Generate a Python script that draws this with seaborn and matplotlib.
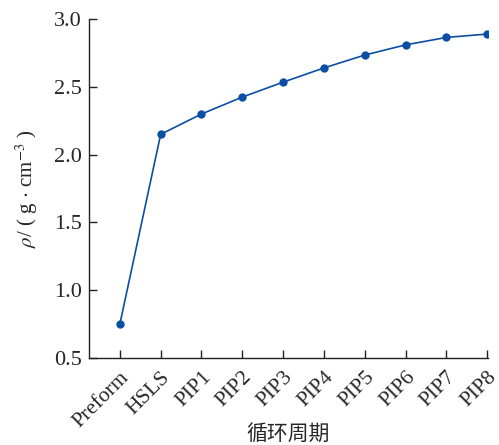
import matplotlib
matplotlib.use("Agg")
import matplotlib.pyplot as plt
import seaborn as sns
import pandas as pd

# Données : densité après chaque cycle
cycles = ["Preform", "HSLS", "PIP1", "PIP2", "PIP3", "PIP4", "PIP5", "PIP6", "PIP7", "PIP8"]
density = [0.75, 2.15, 2.30, 2.425, 2.535, 2.64, 2.735, 2.81, 2.865, 2.89]
yticks = [0.5, 1.0, 1.5, 2.0, 2.5, 3.0]

sns.set_style("ticks")
plt.rcParams["font.family"] = ["Liberation Serif", "Noto Sans CJK SC"]
plt.rcParams["mathtext.fontset"] = "stix"

df = pd.DataFrame({"cycle": cycles, "rho": density})
df["pos"] = range(len(cycles))

fig = plt.figure(figsize=(4.99, 4.45), dpi=100)
ax = fig.add_axes([0.178, 0.1955, 0.8, 0.7615])
sns.lineplot(data=df, x="pos", y="rho", marker="o", color="#0b4ea6",
             linewidth=1.2, markersize=6, markeredgewidth=0, ax=ax)

ax.set_xlim(-0.76, 9.02)
ax.set_ylim(0.5, 3.0)
ax.set_xticks(df["pos"])
ax.set_xticklabels(cycles, rotation=45, ha="right", rotation_mode="anchor", fontsize=15.5)
ax.set_yticks(yticks)
ax.set_yticklabels([f"{v:.1f}" for v in yticks], fontsize=16)
ax.tick_params(direction="in", length=6, width=1, color="#222222", pad=5)
ax.tick_params(axis="x", pad=7)
sns.despine(ax=ax)
for s in ["left", "bottom"]:
    ax.spines[s].set_linewidth(1)
    ax.spines[s].set_color("#222222")

ax.set_xlabel("循环周期", fontsize=15, family=["Noto Sans CJK SC"])
ax.xaxis.set_label_coords(0.5, -0.19)
ax.set_ylabel(r"$\rho$/ ( g $\cdot$ cm$^{-3}$ )", fontsize=15, labelpad=10)

fig.savefig("out.png", dpi=100)
